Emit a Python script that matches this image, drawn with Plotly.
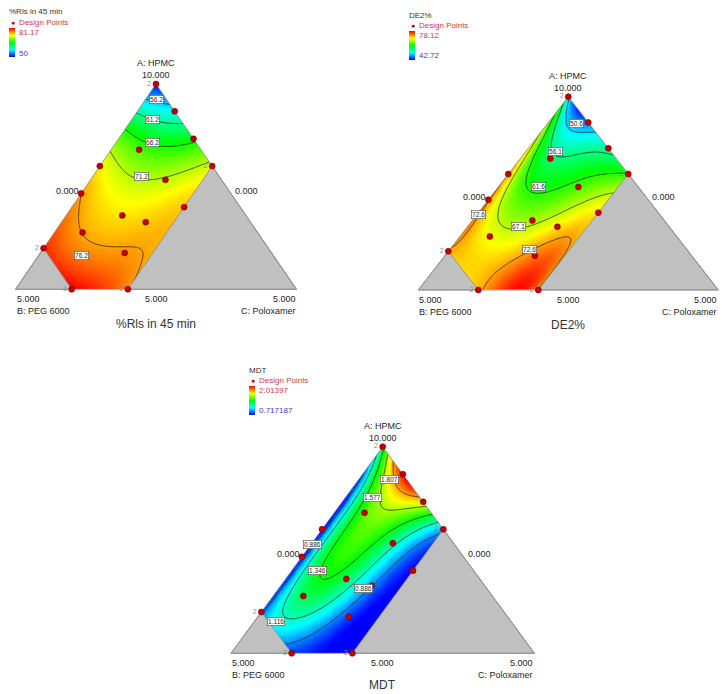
import numpy as np
import plotly.graph_objects as go

W, H = 722, 694

# ---------------- data ----------------
RESPONSE_NAMES = ["%Rls in 45 min", "DE2%", "MDT"]
COMP_A = "A: HPMC"
COMP_B = "B: PEG 6000"
COMP_C = "C: Poloxamer"
TOP_TICK = "10.000"
CORNER_TICK = "5.000"
MID_TICK = "0.000"

# constrained region (fractions): B <= B_MAX, C <= C_MAX
B_MAX = 0.8
C_MAX = 0.4

# design points (fraction of A: HPMC, fraction of C: Poloxamer) and replicate counts
DESIGN_A = [1.0, 0.867, 0.733, 0.6, 0.4, 0.0, 0.0, 0.2, 0.467, 0.6, 0.68, 0.533, 0.36, 0.327, 0.277, 0.177]
DESIGN_C = [0.0, 0.133, 0.267, 0.4, 0.4, 0.4, 0.2, 0.0, 0.0, 0.0, 0.1, 0.267, 0.2, 0.3, 0.1, 0.3]
DESIGN_REPS = [2, 1, 1, 2, 1, 2, 2, 2, 1, 1, 1, 1, 1, 1, 1, 1]

# response values at a lattice of compositions
READ_A = [1.0,
          0.9, 0.9,
          0.8, 0.8, 0.8,
          0.7, 0.7, 0.7, 0.7,
          0.6, 0.6, 0.6, 0.6, 0.6,
          0.5, 0.5, 0.5, 0.5, 0.5,
          0.4, 0.4, 0.4, 0.4, 0.4,
          0.3, 0.3, 0.3, 0.3, 0.3,
          0.2, 0.2, 0.2, 0.2, 0.2,
          0.1, 0.1, 0.1, 0.1,
          0.0, 0.0, 0.0]
READ_C = [0.0,
          0.0, 0.1,
          0.0, 0.1, 0.2,
          0.0, 0.1, 0.2, 0.3,
          0.0, 0.1, 0.2, 0.3, 0.4,
          0.0, 0.1, 0.2, 0.3, 0.4,
          0.0, 0.1, 0.2, 0.3, 0.4,
          0.0, 0.1, 0.2, 0.3, 0.4,
          0.0, 0.1, 0.2, 0.3, 0.4,
          0.1, 0.2, 0.3, 0.4,
          0.2, 0.3, 0.4]
RLS45_READ = [50,
              58.5, 56.5,
              65, 62, 61.2,
              70, 66.8, 66.6, 67.5,
              73.5, 70.5, 69.5, 70, 72,
              75.8, 73, 71.5, 72.5, 74,
              77, 74.8, 74, 74.5, 75,
              78.5, 75.5, 75, 75.2, 75.5,
              80, 77, 76.2, 76, 75.8,
              80.5, 79, 77.5, 76,
              81.2, 80, 76.5]
DE2_READ = [52,
            63, 45,
            67, 52, 51,
            70, 57, 57, 57,
            72.5, 59, 58.5, 60, 61.6,
            73.5, 62, 62.5, 65.5, 67.5,
            74, 65.5, 66, 68.5, 70,
            73.5, 67.5, 68, 70, 71,
            72, 70, 71, 72.8, 72.3,
            71.5, 72, 76, 72.5,
            71, 78, 72]
MDT_READ = [1.3,
            0.9, 1.95,
            0.8, 1.6, 1.95,
            0.75, 1.5, 1.58, 1.5,
            0.74, 1.38, 1.4, 1.2, 0.95,
            0.74, 1.36, 1.38, 1.05, 0.75,
            0.76, 1.36, 1.3, 0.9, 0.72,
            0.8, 1.32, 1.2, 0.85, 0.72,
            0.85, 1.16, 1.05, 0.8, 0.72,
            1.0, 0.9, 0.76, 0.72,
            0.8, 0.74, 0.72]

RLS45_RANGE = [50, 81.17]
DE2_RANGE = [42.72, 78.12]
MDT_RANGE = [0.717187, 2.01397]
RANGE_TEXT = [["81.17", "50"], ["78.12", "42.72"], ["2.01397", "0.717187"]]

RLS45_LEVELS = [56.2, 61.2, 66.2, 71.2, 76.2]
DE2_LEVELS = [50.6, 56.1, 61.6, 67.1, 72.6]
MDT_LEVELS = [0.886, 1.116, 1.346, 1.577, 1.807]
LEVEL_TEXT = [["56.2", "61.2", "66.2", "71.2", "76.2"],
              ["50.6", "56.1", "61.6", "67.1", "72.6"],
              ["0.886", "1.116", "1.346", "1.577", "1.807"]]

READS = [RLS45_READ, DE2_READ, MDT_READ]
RANGES = [RLS45_RANGE, DE2_RANGE, MDT_RANGE]
LEVELS = [RLS45_LEVELS, DE2_LEVELS, MDT_LEVELS]

# ---------------- style / layout ----------------
FONT = "Liberation Sans, Arial, sans-serif"
COLORSCALE = [[0.0, "#0000ff"], [0.25, "#00ffff"], [0.5, "#00ff00"], [0.75, "#ffff00"], [1.0, "#ff0000"]]
# triangle pixel geometry: left-vertex x, right-vertex x, base y, top y
GEOM = [(15.5, 296.5, 289.3, 84.0),
        (418.3, 718.3, 290.0, 96.7),
        (231.0, 534.4, 653.3, 446.7)]
# legend block pixel anchors: (x, y of title)
LEGEND = [(7, 12), (407, 15), (247, 370)]
TITLE_SHIFT = [-35, -35, -32]
# contour label placements (A, C, level index)
LABEL_PLACES = [
    [(0.925, 0.038, 0), (0.828, 0.073, 1), (0.714, 0.13, 2), (0.548, 0.175, 3), (0.164, 0.154, 4)],
    [(0.859, 0.098, 0), (0.715, 0.099, 1), (0.534, 0.133, 2), (0.327, 0.17, 3), (0.392, 0.004, 4), (0.21, 0.265, 4)],
    [(0.842, 0.103, 4), (0.755, 0.09, 3), (0.529, 0.004, 0), (0.403, 0.083, 2), (0.3145, 0.279, 0), (0.156, 0.07, 1)],
]
DEG = 5


def to_xy(a, c):
    a = np.asarray(a, float)
    c = np.asarray(c, float)
    return c + a / 2.0, a


def basis(a, c, deg=DEG):
    return np.stack([a ** i * c ** j for i in range(deg + 1) for j in range(deg + 1 - i)], axis=-1)


ra = np.array(READ_A)
rc = np.array(READ_C)
gx = np.linspace(0, 1, 321)
gy = np.linspace(0, 1, 321)
GX, GY = np.meshgrid(gx, gy)
GA = GY
GC = GX - GY / 2.0

fig = go.Figure()
annotations = []
layout_axes = {}


def px2paper(px, py):
    return px / W, 1 - py / H


for k in range(3):
    sfx = "" if k == 0 else str(k + 1)
    xa, ya = "x" + sfx, "y" + sfx
    xL, xR, yB, yT = GEOM[k]
    sx, sy = xR - xL, yB - yT
    xr = [-0.05, min(1.05, (W - 0.5 - xL) / sx)]
    yr = [-0.06, 1.06]
    layout_axes["xaxis" + sfx] = dict(domain=[(xL + xr[0] * sx) / W, (xL + xr[1] * sx) / W], range=xr,
                                      visible=False, fixedrange=True, anchor=ya)
    layout_axes["yaxis" + sfx] = dict(domain=[1 - (yB - yr[0] * sy) / H, 1 - (yB - yr[1] * sy) / H], range=yr,
                                      visible=False, fixedrange=True, anchor=xa)

    vals = np.array(READS[k], float)
    coef = np.linalg.lstsq(basis(ra, rc), vals, rcond=None)[0]
    zmin, zmax = RANGES[k]
    span = zmax - zmin
    Z = np.clip(basis(GA, GC) @ coef, zmin - span, zmax + span)
    lv = LEVELS[k]
    fig.add_trace(go.Contour(
        x=gx, y=gy, z=Z, xaxis=xa, yaxis=ya,
        colorscale=COLORSCALE, zauto=False, zmin=zmin, zmax=zmax,
        autocontour=False,
        contours=dict(start=lv[0], end=lv[-1], size=(lv[-1] - lv[0]) / (len(lv) - 1),
                      coloring="heatmap", showlines=True),
        line=dict(color="#262626", width=0.8, smoothing=1),
        showscale=False, hoverinfo="skip"))

    # white covers outside the big triangle
    covers = [
        ([-0.3, 0.0, 0.5, 0.5, -0.3], [0.0, 0.0, 1.0, 1.3, 1.3]),
        ([1.3, 1.0, 0.5, 0.5, 1.3], [0.0, 0.0, 1.0, 1.3, 1.3]),
        ([-0.3, 1.3, 1.3, -0.3], [0.0, 0.0, -0.3, -0.3]),
    ]
    for cx, cy in covers:
        fig.add_trace(go.Scatter(x=cx, y=cy, xaxis=xa, yaxis=ya, mode="lines", fill="toself",
                                 fillcolor="white", line=dict(width=0, color="white"),
                                 hoverinfo="skip", showlegend=False))
    # grey excluded regions (B > B_MAX, C > C_MAX)
    left_tri = to_xy([1 - B_MAX, 0.0, 0.0, 1 - B_MAX], [0.0, 0.0, 1 - B_MAX, 0.0])
    right_tri = to_xy([1 - C_MAX, 0.0, 0.0, 1 - C_MAX], [C_MAX, C_MAX, 1.0, C_MAX])
    for tx, ty in (left_tri, right_tri):
        fig.add_trace(go.Scatter(x=tx, y=ty, xaxis=xa, yaxis=ya, mode="lines", fill="toself",
                                 fillcolor="#c0c0c0", line=dict(width=0.8, color="#8a8a8a"),
                                 hoverinfo="skip", showlegend=False))
    ox, oy = to_xy([0.0, 1.0, 0.0, 0.0], [0.0, 0.0, 1.0, 0.0])
    fig.add_trace(go.Scatter(x=ox, y=oy, xaxis=xa, yaxis=ya, mode="lines",
                             line=dict(width=0.8, color="#8a8a8a"), hoverinfo="skip", showlegend=False))

    # design points
    dx, dy = to_xy(DESIGN_A, DESIGN_C)
    fig.add_trace(go.Scatter(
        x=dx, y=dy, xaxis=xa, yaxis=ya, mode="markers+text",
        text=[str(r) if r > 1 else "" for r in DESIGN_REPS], textposition="middle left",
        textfont=dict(size=7, color="#8c8c8c", family=FONT),
        marker=dict(size=6, color="#c40000", line=dict(width=0.6, color="#7a0000")),
        cliponaxis=False, hoverinfo="skip", showlegend=False))

    # colour bar (legend)
    lx, ly = LEGEND[k]
    cbx, cby = px2paper(lx + 1.5, ly + 16)
    fig.add_trace(go.Scatter(
        x=[None], y=[None], xaxis=xa, yaxis=ya, mode="markers", showlegend=False, hoverinfo="skip",
        marker=dict(color=[zmin, zmax], cmin=zmin, cmax=zmax, colorscale=COLORSCALE, showscale=True,
                    colorbar=dict(x=cbx, y=cby, xanchor="left", yanchor="top", xpad=0, ypad=0,
                                  lenmode="pixels", len=29, thickness=6, outlinewidth=0,
                                  showticklabels=False, ticks=""))))

    # legend texts
    def pa(px, py, text, size, color, xanchor="left"):
        x, y = px2paper(px, py)
        annotations.append(dict(x=x, y=y, xref="paper", yref="paper", text=text, showarrow=False,
                                xanchor=xanchor, yanchor="middle",
                                font=dict(size=size, color=color, family=FONT)))
    pa(lx, ly, RESPONSE_NAMES[k], 8, "#333333")
    pa(lx + 1.5, ly + 10.5, "\u25cf", 7, "#c40000")
    pa(lx + 9.5, ly + 10.5, "Design Points", 8, "#d23a3a")
    pa(lx + 10, ly + 20, RANGE_TEXT[k][0], 8, "#d23a3a")
    pa(lx + 10, ly + 41, RANGE_TEXT[k][1], 8, "#3a3ad2")

    # axis texts on the triangle
    def da(x, y, text, size, xanchor="center", yanchor="middle", xshift=0, yshift=0, color="#1e1e1e"):
        annotations.append(dict(x=x, y=y, xref=xa, yref=ya, text=text, showarrow=False,
                                xanchor=xanchor, yanchor=yanchor, xshift=xshift, yshift=yshift,
                                align=xanchor if xanchor != "center" else "center",
                                borderpad=0, font=dict(size=size, color=color, family=FONT)))
    da(0.5, 1.0, COMP_A + "<br>" + TOP_TICK, 9, yanchor="bottom", yshift=3)
    da(0.25, 0.5, MID_TICK, 9, xanchor="right", xshift=-6, yshift=-4)
    da(0.75, 0.5, MID_TICK, 9, xanchor="left", xshift=8, yshift=-4)
    da(0.0, 0.0, CORNER_TICK + "<br>" + COMP_B, 9, xanchor="left", yanchor="top", yshift=-4)
    da(0.5, 0.0, CORNER_TICK, 9, yanchor="top", yshift=-4)
    da(1.0, 0.0, CORNER_TICK + "<br>" + COMP_C, 9, xanchor="right", yanchor="top", yshift=-4)
    da(0.5, 0.0, RESPONSE_NAMES[k], 12, yshift=TITLE_SHIFT[k], color="#333333")

    # contour labels
    for (la, lc, li) in LABEL_PLACES[k]:
        x, y = to_xy(la, lc)
        annotations.append(dict(x=float(x), y=float(y), xref=xa, yref=ya, text=LEVEL_TEXT[k][li],
                                showarrow=False, bgcolor="white", bordercolor="#444444", borderwidth=0.6,
                                borderpad=0.5, font=dict(size=6.5, color="#222222", family=FONT)))

fig.update_layout(width=W, height=H, margin=dict(l=0, r=0, t=0, b=0), autosize=False,
                  paper_bgcolor="white", plot_bgcolor="white", showlegend=False,
                  annotations=annotations, **layout_axes)

fig.write_html("out.html", config={"displayModeBar": False},
               post_script="document.body.style.margin='0';")
